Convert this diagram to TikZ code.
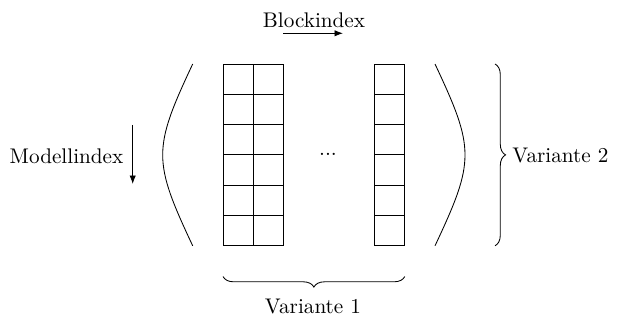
\documentclass[tikz,border=0pt]{standalone}
\usetikzlibrary{decorations.pathreplacing,arrows.meta}
\begin{document}
\begin{tikzpicture}[x=0.016584cm,y=-0.016584cm,
  txt/.style={inner sep=0pt},
  idxarrow/.style={-{Latex[length=4pt,width=3pt]}},
  curlybrace/.style={decorate,decoration={brace,amplitude=5pt}},
  cell/.style={draw,line width=0.4pt}]
\useasboundingbox (0,0) rectangle (621,320);

% block columns: two on the left, one on the right
\foreach \i in {0,...,5}{
  \draw[cell] (223,64+30.3*\i) rectangle +(30.3,30.3);
  \draw[cell] (253.3,64+30.3*\i) rectangle +(30.3,30.3);
  \draw[cell] (374.5,64+30.3*\i) rectangle +(30.3,30.3);
}
\node[txt,anchor=base] (dots) at (328,155.5) {...};

% large round brackets
\coordinate (lpTop) at (192.7,64);
\coordinate (lpBot) at (192.7,245.8);
\draw (lpTop) .. controls +(-40,85) and +(-40,-85) .. (lpBot);
\coordinate (rpTop) at (435,64);
\coordinate (rpBot) at (435,245.8);
\draw (rpTop) .. controls +(40,85) and +(40,-85) .. (rpBot);

% index directions
\node[txt] (block) at (314,20.7) {Blockindex};
\coordinate (bS) at (283,33.3);
\coordinate (bE) at (343,33.3);
\draw[idxarrow] (bS) -- (bE);
\node[txt] (model) at (66.5,156) {Modellindex};
\coordinate (mS) at (132.7,125);
\coordinate (mE) at (132.7,184);
\draw[idxarrow] (mS) -- (mE);

% braces with variants
\coordinate (v2Top) at (495,64);
\coordinate (v2Bot) at (495,245.8);
\draw[curlybrace] (v2Top) -- (v2Bot);
\node[txt,anchor=west] (var2) at (512,155.5) {Variante 2};
\coordinate (v1R) at (404.8,276.5);
\coordinate (v1L) at (223,276.5);
\draw[curlybrace] (v1R) -- (v1L);
\node[txt] (var1) at (313,306.5) {Variante 1};
\end{tikzpicture}
\end{document}
